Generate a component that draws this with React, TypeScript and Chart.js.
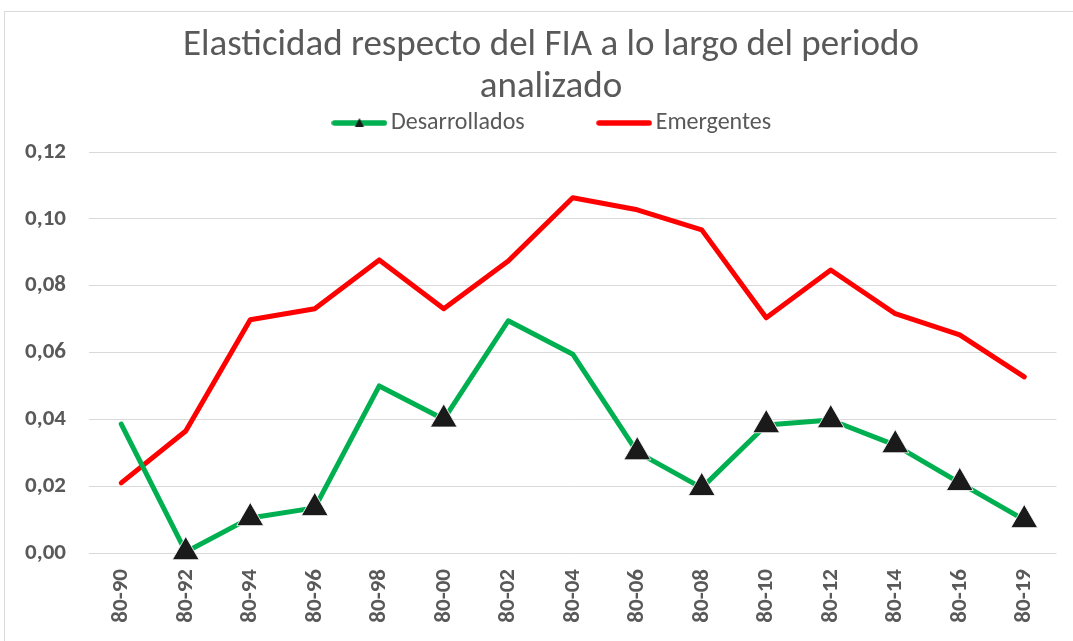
import React, { useEffect, useRef } from "react";
import { Chart, registerables } from "chart.js";

Chart.register(...registerables);

const periods = ["80-90", "80-92", "80-94", "80-96", "80-98", "80-00", "80-02", "80-04", "80-06", "80-08", "80-10", "80-12", "80-14", "80-16", "80-19"];
const desarrollados = [0.0386, 0.0003, 0.0105, 0.0135, 0.05, 0.04, 0.0695, 0.0595, 0.0302, 0.0195, 0.0383, 0.0398, 0.0323, 0.021, 0.0099];
const emergentes = [0.021, 0.0365, 0.0698, 0.0731, 0.0877, 0.0731, 0.0874, 0.1063, 0.1027, 0.0967, 0.0704, 0.0847, 0.0716, 0.0653, 0.0527];
const desarrolladosConMarcador = ["80-92", "80-94", "80-96", "80-00", "80-06", "80-08", "80-10", "80-12", "80-14", "80-16", "80-19"];
const seriesNames = ["Desarrollados", "Emergentes"];
const titleLines = ["Elasticidad respecto del FIA a lo largo del periodo", "analizado"];
const yMin = 0;
const yMax = 0.12;
const yStep = 0.02;

const GREEN = "#00B050";
const RED = "#FF0000";
const TEXT = "#595959";
const FONT = "Carlito, Calibri, 'Open Sans', sans-serif";

const TITLE_FS = 37;
const TITLE_LH = 42;
const TITLE_FIRST_CENTER = 46;
const LEGEND_FS = 24;
const LEGEND_PAD = 80;
const LEGEND_TOP = 123 - LEGEND_PAD - LEGEND_FS / 2;
const CHART_TOP = 152;
const PLOT_LEFT = 89;
const PLOT_RIGHT = 1057;
const CANVAS_PAD_LEFT = 20;
const TITLE_LEFT = 45;
const LEGEND_LEFT = 54;

function makeIcon(color: string, marker: boolean): HTMLCanvasElement {
  const c = document.createElement("canvas");
  c.width = 56;
  c.height = 16;
  const ctx = c.getContext("2d")!;
  ctx.strokeStyle = color;
  ctx.lineWidth = 5.5;
  ctx.lineCap = "round";
  ctx.beginPath();
  ctx.moveTo(3, 8);
  ctx.lineTo(53, 8);
  ctx.stroke();
  if (marker) {
    ctx.fillStyle = "#1a1a1a";
    ctx.beginPath();
    ctx.moveTo(28, 3);
    ctx.lineTo(32.5, 12);
    ctx.lineTo(23.5, 12);
    ctx.closePath();
    ctx.fill();
  }
  return c;
}

export default function App() {
  const ref = useRef<HTMLCanvasElement>(null);

  useEffect(() => {
    if (!ref.current) return;
    const icons = [makeIcon(GREEN, true), makeIcon(RED, false)];

    const headerPlugin = {
      id: "headerLayout",
      beforeLayout(chart: any) {
        const lg = chart.legend;
        if (lg && !lg.__patched) {
          const orig = lg.fit.bind(lg);
          lg.fit = function () {
            orig();
            this.height = CHART_TOP - LEGEND_TOP;
          };
          lg.__patched = true;
        }
      },
      afterLayout(chart: any) {
        const t = chart.titleBlock;
        if (t) {
          t.left = TITLE_LEFT;
          t.right = PLOT_RIGHT;
          t.width = PLOT_RIGHT - TITLE_LEFT;
        }
        const l = chart.legend;
        if (l) {
          l.left = LEGEND_LEFT;
          l.right = PLOT_RIGHT;
          l.width = PLOT_RIGHT - LEGEND_LEFT;
        }
      },
    };

    const chart = new Chart(ref.current, {
      type: "line",
      data: {
        labels: periods,
        datasets: [
          {
            label: seriesNames[0],
            data: desarrollados,
            borderColor: GREEN,
            backgroundColor: "#1a1a1a",
            borderWidth: 5,
            borderCapStyle: "round",
            borderJoinStyle: "round",
            pointStyle: "triangle",
            pointRadius: (ctx: any) => (desarrolladosConMarcador.includes(periods[ctx.dataIndex]) ? 15.5 : 0),
            pointBackgroundColor: "#1a1a1a",
            pointBorderColor: "rgba(255,255,255,0.85)",
            pointBorderWidth: 1,
            tension: 0,
            clip: false,
          },
          {
            label: seriesNames[1],
            data: emergentes,
            borderColor: RED,
            backgroundColor: RED,
            borderWidth: 5,
            borderCapStyle: "round",
            borderJoinStyle: "round",
            pointRadius: 0,
            tension: 0,
            clip: false,
          },
        ],
      },
      options: {
        responsive: false,
        animation: false,
        devicePixelRatio: 1,
        layout: { padding: { left: CANVAS_PAD_LEFT, right: 1073 - PLOT_RIGHT, top: 0, bottom: 16 } },
        plugins: {
          title: {
            display: true,
            text: titleLines,
            color: TEXT,
            font: { family: FONT, size: TITLE_FS, weight: "normal", lineHeight: TITLE_LH / TITLE_FS },
            padding: {
              top: TITLE_FIRST_CENTER - TITLE_LH / 2,
              bottom: LEGEND_TOP - (TITLE_FIRST_CENTER - TITLE_LH / 2) - 2 * TITLE_LH,
            },
          },
          legend: {
            display: true,
            position: "top",
            labels: {
              color: TEXT,
              font: { family: FONT, size: LEGEND_FS },
              usePointStyle: true,
              pointStyleWidth: 39,
              padding: LEGEND_PAD,
              generateLabels: () =>
                seriesNames.map((name, i) => ({
                  text: name,
                  pointStyle: icons[i] as any,
                  fillStyle: "transparent",
                  strokeStyle: "transparent",
                  lineWidth: 0,
                  hidden: false,
                  datasetIndex: i,
                  fontColor: TEXT,
                })),
            },
          },
          tooltip: { enabled: false },
        },
        scales: {
          x: {
            offset: true,
            grid: { display: false, drawTicks: false },
            border: { display: false },
            ticks: {
              color: TEXT,
              font: { family: FONT, size: 23, weight: "bold" },
              minRotation: 90,
              maxRotation: 90,
              padding: 16,
              autoSkip: false,
            },
            afterFit: (s: any) => {
              s.height = 72;
            },
          },
          y: {
            min: yMin,
            max: yMax,
            grid: { color: "#d9d9d9", lineWidth: 1, drawTicks: false },
            border: { display: false },
            ticks: {
              stepSize: yStep,
              color: TEXT,
              font: { family: FONT, size: 23, weight: "bold" },
              padding: 23,
              callback: (v: any) => Number(v).toFixed(2).replace(".", ","),
            },
            afterFit: (s: any) => {
              s.width = PLOT_LEFT - CANVAS_PAD_LEFT;
            },
          },
        },
      },
      plugins: [headerPlugin],
    } as any);
    return () => chart.destroy();
  }, []);

  return (
    <div style={{ position: "fixed", left: 0, top: 0, width: 1073, height: 641, overflow: "hidden", background: "#fff" }}>
      <div style={{ position: "absolute", left: 4, top: 11, width: 1100, height: 700, border: "1px solid #d9d9d9", boxSizing: "border-box" }} />
      <canvas ref={ref} width={1073} height={641} style={{ position: "absolute", left: 0, top: 0 }} />
    </div>
  );
}
